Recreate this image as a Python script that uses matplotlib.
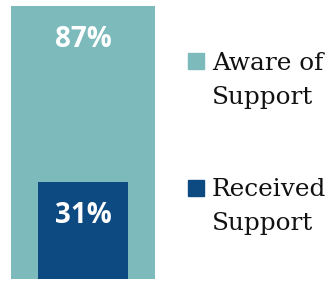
import matplotlib.pyplot as plt
from matplotlib.patches import Rectangle

# Data
categories = ["Aware of\nSupport", "Received\nSupport"]
values = [87, 31]
labels = ["87%", "31%"]
colors = ["#7DBABC", "#0D4A81"]
widths = [1.0, 0.625]

fig = plt.figure(figsize=(3.25, 2.81), dpi=100)
ax = fig.add_axes([11 / 325, 2 / 281, 144 / 325, 273 / 281])

for cat, val, lab, col, w in zip(categories, values, labels, colors, widths):
    ax.bar(0, val, width=w, color=col, label=cat)
    ax.annotate(lab, xy=(0, val), xytext=(0, -24), textcoords="offset points",
                ha="center", va="center", color="white", fontsize=20,
                fontweight="bold", family="Open Sans")

ax.set_xlim(-0.5, 0.5)
ax.set_ylim(0, 87)
ax.axis("off")

# legend drawn by hand: square next to the first line of each label
W, H = 325, 281
leg_top = [53, 180]    # pixel rows of the squares (from top)
leg_base = [104, 230]  # baseline of the last label line
for cat, col, top, base in zip(categories, colors, leg_top, leg_base):
    fig.patches.append(Rectangle((188 / W, 1 - (top + 16) / H), 16 / W, 16 / H,
                                 transform=fig.transFigure, color=col))
    fig.text(212 / W, 1 - base / H, cat, ha="left", va="baseline",
             family="DejaVu Serif", fontsize=17.8, linespacing=1.62, color="#111111")

fig.savefig("out.png", dpi=100)
